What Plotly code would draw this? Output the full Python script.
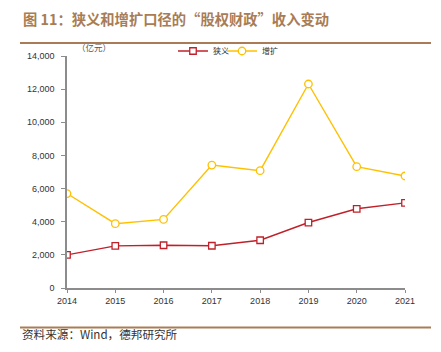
import plotly.graph_objects as go

years = [2014, 2015, 2016, 2017, 2018, 2019, 2020, 2021]
narrow = [2000, 2540, 2580, 2550, 2880, 3950, 4780, 5140]
expanded = [5700, 3880, 4140, 7420, 7080, 12310, 7320, 6760]
y_ticks = [0, 2000, 4000, 6000, 8000, 10000, 12000, 14000]

W, H = 441, 352
L, R, T, B = 67, 36, 56, 64
pw, ph = W - L - R, H - T - B

def px(x):
    return (x - L) / pw

def py(y):
    return (H - B - y) / ph

fig = go.Figure()
fig.add_trace(go.Scatter(
    x=years, y=narrow, name="狭义", mode="lines+markers", legend="legend",
    line=dict(color="#C0202A", width=1.4),
    marker=dict(symbol="square", size=6.5, color="white", line=dict(color="#C0202A", width=1.3)),
))
fig.add_trace(go.Scatter(
    x=years, y=expanded, name="增扩", mode="lines+markers", legend="legend2",
    line=dict(color="#FFC000", width=1.4),
    marker=dict(symbol="circle", size=7.5, color="white", line=dict(color="#FFC000", width=1.3)),
))

tick_font = dict(family="Liberation Sans, Arial, sans-serif", size=9, color="#333333")
leg_font = dict(family="Noto Sans CJK SC", size=8, color="#333333")
fig.update_layout(
    width=W, height=H,
    margin=dict(l=L, r=R, t=T, b=B, pad=0),
    plot_bgcolor="white", paper_bgcolor="white",
    showlegend=True,
    legend=dict(orientation="h", x=px(173), y=py(51), xanchor="left", yanchor="middle",
                font=leg_font, itemwidth=30, bgcolor="rgba(0,0,0,0)"),
    legend2=dict(orientation="h", x=px(222), y=py(51), xanchor="left", yanchor="middle",
                 font=leg_font, itemwidth=30, bgcolor="rgba(0,0,0,0)"),
    xaxis=dict(range=[2014, 2021], tickmode="array", tickvals=years,
               ticktext=[str(y) for y in years], showgrid=False, zeroline=False,
               showline=True, linecolor="#8c8c8c", linewidth=1.5,
               ticks="outside", ticklen=3, tickcolor="#8c8c8c", tickfont=tick_font),
    yaxis=dict(range=[0, 14000], tickmode="array", tickvals=y_ticks,
               ticktext=[f"{v:,}" for v in y_ticks], showgrid=False, zeroline=False,
               showline=True, linecolor="#8c8c8c", linewidth=1.5,
               ticks="outside", ticklen=4, tickcolor="#8c8c8c", tickfont=tick_font,
               ticklabelstandoff=5),
)

brown = "#A97C55"
fig.add_annotation(text="<b>图 11：狭义和增扩口径的“股权财政”收入变动</b>",
                   xref="paper", yref="paper", x=px(21), y=py(18),
                   xanchor="left", yanchor="middle", showarrow=False,
                   font=dict(family="Noto Sans CJK SC", size=14.3, color=brown))
fig.add_annotation(text="（亿元）", xref="paper", yref="paper", x=px(75), y=py(47),
                   xanchor="left", yanchor="middle", showarrow=False,
                   font=dict(family="Noto Sans CJK SC", size=8.5, color="#555555"))
fig.add_annotation(text="资料来源：Wind，德邦研究所", xref="paper", yref="paper",
                   x=px(20), y=py(334), xanchor="left", yanchor="middle", showarrow=False,
                   font=dict(family="Noto Sans CJK SC", size=11.6, color="#333333"))
fig.add_shape(type="line", xref="paper", yref="paper", x0=px(20), x1=px(431),
              y0=py(43), y1=py(43), line=dict(color=brown, width=2))
fig.add_shape(type="line", xref="paper", yref="paper", x0=px(20), x1=px(431),
              y0=py(327.5), y1=py(327.5), line=dict(color=brown, width=2))

fig.write_html("out.html")
